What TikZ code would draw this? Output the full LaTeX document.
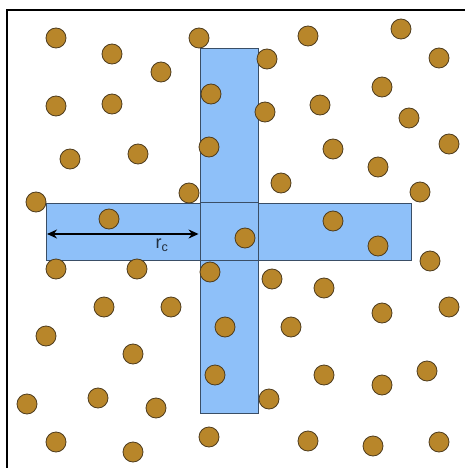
\documentclass[tikz,border=0pt]{standalone}
\usepackage{fontspec}
\setmainfont{Liberation Sans}
\usetikzlibrary{arrows.meta,calc}
\definecolor{bar}{HTML}{8EC0F9}
\definecolor{barline}{HTML}{3A4E66}
\definecolor{grain}{HTML}{B8862A}
\definecolor{grainline}{HTML}{4E3C1E}
\definecolor{ink}{HTML}{000000}
\tikzset{
  >={Stealth[length=10pt,width=9pt]},
  every picture/.style={line join=miter},
  barbox/.style={draw=barline, fill=bar, line width=0.9pt, inner sep=0pt},
  particle/.style={circle, fill=grain, draw=grainline, line width=0.8pt,
    inner sep=0pt, minimum size=20pt},
  frame/.style={draw=ink, line width=2pt},
  dimarr/.style={<->, draw=ink, line width=1.3pt},
  lbl/.style={font=\fontsize{18}{20}\selectfont, text=barline!60!black},
}
\begin{document}
\begin{tikzpicture}[x=1pt,y=-1pt]
  \useasboundingbox (0,0) rectangle (464,468);
  % outer frame (only left and top edge are inside the picture)
  \draw[frame] (7,480) -- (7,10) -- (480,10);

  % the cross of cells around the centre cell
  \node[barbox, minimum width=365pt, minimum height=57pt] (hbar) at (228.5,231.5) {};
  \node[barbox, minimum width=58pt, minimum height=365pt] (vbar) at (229,230.5) {};
  \draw[barline, line width=0.9pt] (vbar.west |- hbar.north) -- (vbar.east |- hbar.north)
    (vbar.west |- hbar.south) -- (vbar.east |- hbar.south);

  % particles
  \foreach \x/\y [count=\i] in {
      56/38, 112/54, 161/72, 199/38, 56/106, 112/104, 211/94, 70/159, 138/154,
      209/147, 36/202, 189/193, 109/219,
      308/36, 401/29, 267/59, 439/58, 382/87, 265/112, 320/105, 409/118,
      333/149, 449/144, 378/167, 281/183, 420/192, 333/221, 245/238,
      56/269, 137/269, 210/272, 104/307, 171/307, 46/336, 225/327, 133/354,
      215/375, 27/404, 98/398, 156/408, 56/442, 133/452, 209/437,
      378/246, 430/261, 272/279, 324/288, 382/313, 449/307, 291/327,
      324/375, 382/385, 427/371, 269/399, 308/441, 373/446, 439/442}{
    \node[particle] (p\i) at (\x,\y) {};}

  % cutoff radius
  \coordinate (rstart) at ($(hbar.west)+(1.5,2.5)$);
  \coordinate (rend) at (vbar.west |- rstart);
  \draw[dimarr] (rstart) -- ($(rend)+(-1,0)$);
  \node[lbl] (rc) at (162,245) {r\textsubscript{c}};
\end{tikzpicture}
\end{document}
